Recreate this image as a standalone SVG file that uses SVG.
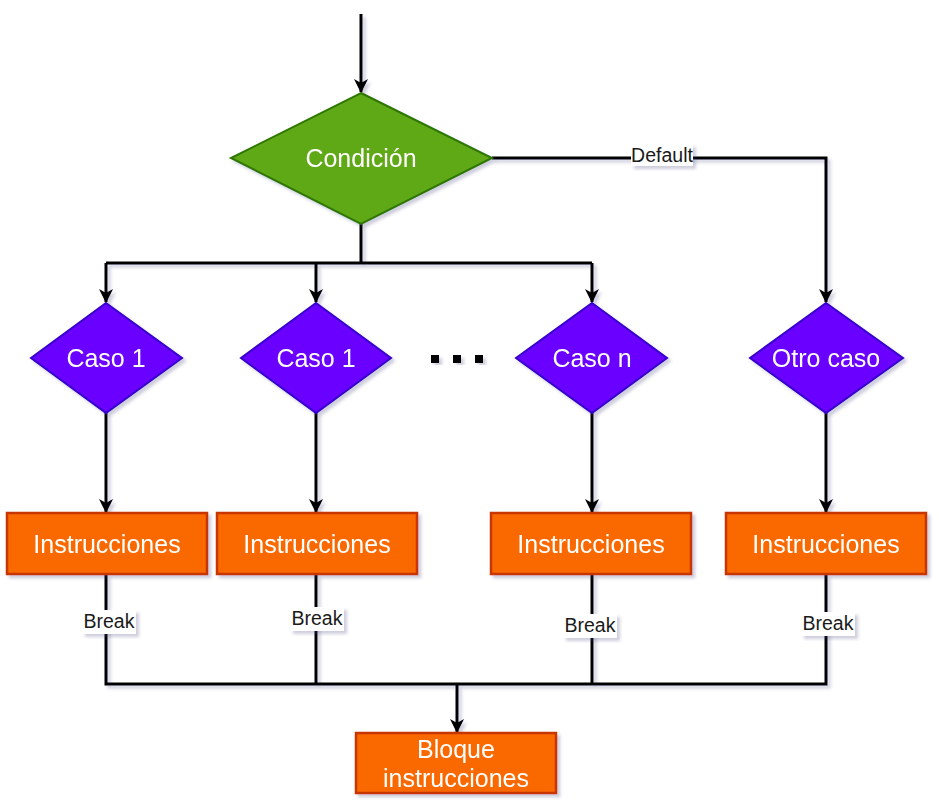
<svg xmlns="http://www.w3.org/2000/svg" width="939" height="806" viewBox="0 0 939 806">
<style>
.t{font-family:"Liberation Sans",Arial,sans-serif;font-size:25px;fill:#ffffff;text-anchor:middle}
.l{font-family:"Liberation Sans",Arial,sans-serif;font-size:19.5px;fill:#1a1a1a;text-anchor:middle}
.g{fill:#60a917;stroke:#2d7600;stroke-width:2}
.p{fill:#6a00ff;stroke:#3700cc;stroke-width:2}
.o{fill:#fa6800;stroke:#c73500;stroke-width:2.5}
.c{fill:none;stroke:#000;stroke-width:3}
.lb{fill:#fff}
</style>
<defs>
<filter id="sh" x="-20%" y="-20%" width="140%" height="140%">
<feDropShadow dx="3" dy="3" stdDeviation="1.5" flood-color="#3c3c78" flood-opacity="0.25"/>
</filter>
<marker id="ar" viewBox="0 0 14 14" refX="13" refY="7" markerWidth="14" markerHeight="14" markerUnits="userSpaceOnUse" orient="auto">
<path d="M0,0 L14,7 L0,14 L4,7 Z" fill="#000"/>
</marker>
</defs>
<g id="connectors" filter="url(#sh)">
<path class="c" d="M361,14 V92" marker-end="url(#ar)"/>
<path class="c" d="M492,158 H826 V302" marker-end="url(#ar)"/>
<path class="c" d="M361,224 V263"/>
<path class="c" d="M106,263 H592"/>
<path class="c" d="M106,263 V302" marker-end="url(#ar)"/>
<path class="c" d="M316,263 V302" marker-end="url(#ar)"/>
<path class="c" d="M592,263 V302" marker-end="url(#ar)"/>
<path class="c" d="M106,413 V512" marker-end="url(#ar)"/>
<path class="c" d="M316,413 V512" marker-end="url(#ar)"/>
<path class="c" d="M592,413 V512" marker-end="url(#ar)"/>
<path class="c" d="M826,413 V512" marker-end="url(#ar)"/>
<path class="c" d="M106,575 V684 H826 V575"/>
<path class="c" d="M316,575 V684"/>
<path class="c" d="M592,575 V684"/>
<path class="c" d="M457,684 V732" marker-end="url(#ar)"/>
</g>
<g id="labels">
<rect class="lb" x="631" y="144" width="62" height="22" filter="url(#sh)"/>
<text class="l" x="662" y="162">Default</text>
<rect class="lb" x="82" y="610" width="54" height="24" filter="url(#sh)"/>
<text class="l" x="109" y="628">Break</text>
<rect class="lb" x="290" y="607" width="54" height="24" filter="url(#sh)"/>
<text class="l" x="317" y="625">Break</text>
<rect class="lb" x="563" y="614" width="54" height="24" filter="url(#sh)"/>
<text class="l" x="590" y="632">Break</text>
<rect class="lb" x="801" y="612" width="54" height="24" filter="url(#sh)"/>
<text class="l" x="828" y="630">Break</text>
</g>
<g id="condicion" filter="url(#sh)">
<polygon class="g" points="361,93 492,158 361,224 231,158"/>
<text class="t" x="361" y="167">Condición</text>
</g>
<g id="caso1a" filter="url(#sh)">
<polygon class="p" points="106,303 182,358 106,413 31,358"/>
<text class="t" x="106" y="367">Caso 1</text>
</g>
<g id="caso1b" filter="url(#sh)">
<polygon class="p" points="316,303 391,358 316,413 241,358"/>
<text class="t" x="316" y="367">Caso 1</text>
</g>
<g id="dots" filter="url(#sh)">
<rect x="431" y="355" width="8" height="8" fill="#000"/>
<rect x="453" y="355" width="8" height="8" fill="#000"/>
<rect x="475" y="355" width="8" height="8" fill="#000"/>
</g>
<g id="cason" filter="url(#sh)">
<polygon class="p" points="592,303 667,358 592,413 516,358"/>
<text class="t" x="592" y="367">Caso n</text>
</g>
<g id="otrocaso" filter="url(#sh)">
<polygon class="p" points="826,303 903,358 826,413 750,358"/>
<text class="t" x="826" y="367">Otro caso</text>
</g>
<g id="instr1" filter="url(#sh)">
<rect class="o" x="7" y="513" width="200" height="61"/>
<text class="t" x="107" y="553">Instrucciones</text>
</g>
<g id="instr2" filter="url(#sh)">
<rect class="o" x="217" y="513" width="200" height="61"/>
<text class="t" x="317" y="553">Instrucciones</text>
</g>
<g id="instr3" filter="url(#sh)">
<rect class="o" x="491" y="513" width="200" height="61"/>
<text class="t" x="591" y="553">Instrucciones</text>
</g>
<g id="instr4" filter="url(#sh)">
<rect class="o" x="726" y="513" width="200" height="61"/>
<text class="t" x="826" y="553">Instrucciones</text>
</g>
<g id="bloque" filter="url(#sh)">
<rect class="o" x="356" y="733" width="200" height="60"/>
<text class="t" x="456" y="758">Bloque</text>
<text class="t" x="456" y="787">instrucciones</text>
</g>
</svg>
